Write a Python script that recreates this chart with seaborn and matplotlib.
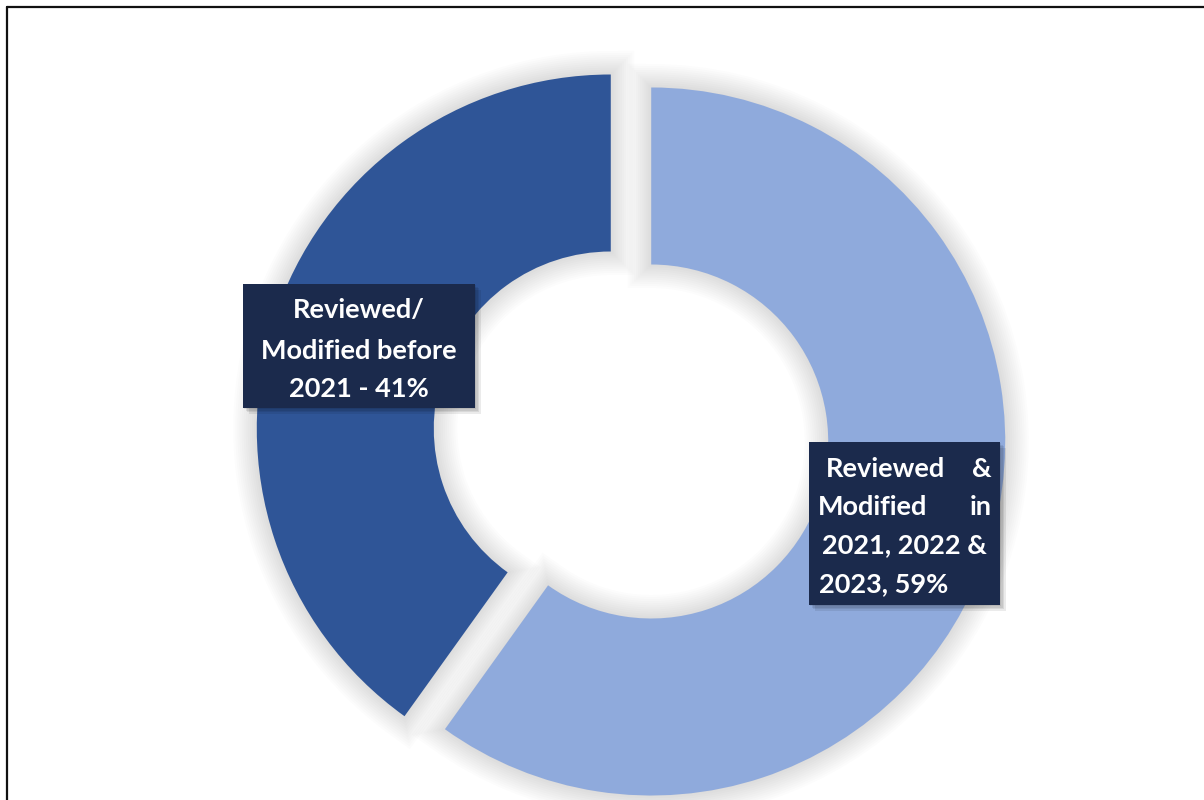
import matplotlib
matplotlib.use('Agg')
import matplotlib.pyplot as plt
import matplotlib.patheffects as pe
from matplotlib.patches import Rectangle, Wedge
from matplotlib.lines import Line2D
import seaborn as sns

sns.set_theme(style='white')
plt.rcParams['font.family'] = ['Lato', 'DejaVu Sans']

# data (slice sizes as drawn in the source; labels round them to 59/41)
categories = ['Reviewed & Modified in 2021, 2022 & 2023', 'Reviewed/ Modified before 2021']
shares = [59.9, 40.1]
colors = ['#8FAADC', '#2F5597']
box_color = '#1B2A4C'

W, H = 1204, 800
fig = plt.figure(figsize=(W / 100, H / 100), dpi=100)
ax = fig.add_axes([0, 0, 1, 1])

def px(x, y):
    # pixel position (from top-left) -> figure fraction
    return x / W, 1 - y / H

wedges, _ = ax.pie(shares, colors=colors, startangle=90, counterclock=False,
                   explode=[0.06, 0.06], radius=1,
                   wedgeprops=dict(width=0.5, edgecolor='none'))

# soft glow under the ring, drawn from copies of the pie's own wedges
glow = [pe.Stroke(linewidth=lw, foreground='#000000', alpha=0.012) for lw in range(34, 0, -3)]
for w in wedges:
    w.set_zorder(3)
    g = Wedge(w.center, w.r, w.theta1, w.theta2, width=w.width,
              facecolor='none', edgecolor='none', zorder=1)
    g.set_path_effects(glow)
    ax.add_patch(g)

# centre of the ring at pixel (631, 435), radius 354 px
R = 354
ax.set_xlim(-631 / R, (W - 631) / R)
ax.set_ylim(-(H - 435) / R, 435 / R)
ax.set_aspect('auto')
ax.axis('off')

# label boxes with a soft drop shadow
shadow = [pe.SimplePatchShadow(offset=(d, -d), shadow_rgbFace='#000000', alpha=0.08)
          for d in (4, 3, 2, 1)]
shadow.append(pe.Normal())
for (x0, y0, x1, y1) in [(243, 284, 475, 408), (809, 442, 1000, 605)]:
    fx, fy = px(x0, y1)
    rect = Rectangle((fx, fy), (x1 - x0) / W, (y1 - y0) / H, transform=fig.transFigure,
                     facecolor=box_color, edgecolor='none', zorder=5)
    rect.set_path_effects(shadow)
    fig.add_artist(rect)

tkw = dict(color='white', fontsize=19.5, fontweight='bold', va='baseline',
           transform=fig.transFigure, zorder=6)

# left label
for txt, yb in [('Reviewed/', 318), ('Modified before', 359), ('2021 - 41%', 397)]:
    fig.text(*px(359, yb), txt, ha='center', **tkw)

# right label (justified like the source)
fig.text(*px(826, 477), 'Reviewed', ha='left', **tkw)
fig.text(*px(992, 477), '&', ha='right', **tkw)
fig.text(*px(818, 515), 'Modified', ha='left', **tkw)
fig.text(*px(992, 515), 'in', ha='right', **tkw)
fig.text(*px(904, 553), '2021, 2022 &', ha='center', **tkw)
fig.text(*px(819, 592), '2023, 59%', ha='left', **tkw)

# outer frame (only top and left edges visible)
fig.add_artist(Line2D([7 / W, 7 / W], [0, 1 - 7 / H], transform=fig.transFigure,
                      color='#111111', linewidth=1.6, zorder=10))
fig.add_artist(Line2D([7 / W, 1], [1 - 7 / H, 1 - 7 / H], transform=fig.transFigure,
                      color='#111111', linewidth=1.6, zorder=10))

fig.savefig('out.png', dpi=100, facecolor='white')
